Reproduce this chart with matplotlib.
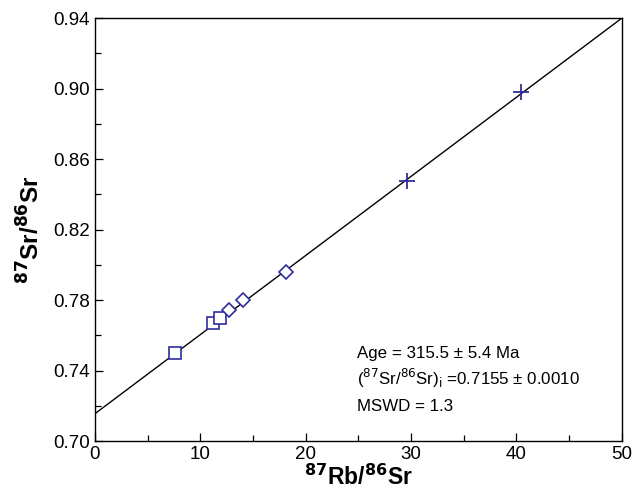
import matplotlib
matplotlib.use("Agg")
import matplotlib.pyplot as plt
import numpy as np

plt.rcParams['font.family'] = ['Liberation Sans', 'DejaVu Sans']

# Data
sq_x = [7.65, 11.2, 11.85]
sq_y = [0.7502, 0.7672, 0.7698]
dia_x = [12.7, 14.1, 18.1]
dia_y = [0.7743, 0.7800, 0.7962]
cross_x = [29.6, 40.4]
cross_y = [0.8475, 0.8980]

intercept = 0.7155
slope = 0.00449
line_x = [0, 50]

mark_color = '#2e2e9e'

fig = plt.figure(figsize=(6.32, 5.03), dpi=100)
ax = fig.add_axes([0.150, 0.123, 0.834, 0.841])

lx = np.array(line_x)
ax.plot(lx, intercept + slope * lx, color='black', lw=1.0, zorder=1)

ax.plot(sq_x, sq_y, 's', ms=8.5, mfc='white', mec=mark_color, mew=1.2, zorder=3)
ax.plot(dia_x, dia_y, 'D', ms=7.5, mfc='white', mec=mark_color, mew=1.2, zorder=3)
ax.plot(cross_x, cross_y, '+', ms=11, mec=mark_color, mew=1.3, zorder=3)

ax.set_xlim(0, 50)
ax.set_ylim(0.70, 0.94)
ax.set_xticks(np.arange(0, 51, 10))
ax.set_yticks(np.arange(0.70, 0.941, 0.04))
ax.set_yticklabels([f"{v:.2f}" for v in np.arange(0.70, 0.941, 0.04)])
ax.set_xticks(np.arange(5, 50, 10), minor=True)
ax.set_yticks(np.arange(0.72, 0.94, 0.04), minor=True)
ax.tick_params(which='both', direction='in', top=False, right=False, labelsize=13.5)
ax.tick_params(which='major', length=6, width=0.9)
ax.tick_params(which='minor', length=4, width=0.9)
for s in ax.spines.values():
    s.set_linewidth(1.0)

ax.set_xlabel(r'$\mathbf{^{87}}$Rb/$\mathbf{^{86}}$Sr', fontsize=16.5, fontweight='bold', labelpad=1)
ax.set_ylabel(r'$\mathbf{^{87}}$Sr/$\mathbf{^{86}}$Sr', fontsize=17.5, fontweight='bold', labelpad=6)

ax.text(0.498, 0.196, 'Age = 315.5 ± 5.4 Ma', transform=ax.transAxes, fontsize=12.2)
ax.text(0.498, 0.133, r'($^{87}$Sr/$^{86}$Sr)$_{\mathrm{i}}$ =0.7155 ± 0.0010', transform=ax.transAxes, fontsize=12.2)
ax.text(0.498, 0.071, 'MSWD = 1.3', transform=ax.transAxes, fontsize=12.2)

fig.savefig('out.png', dpi=100)
